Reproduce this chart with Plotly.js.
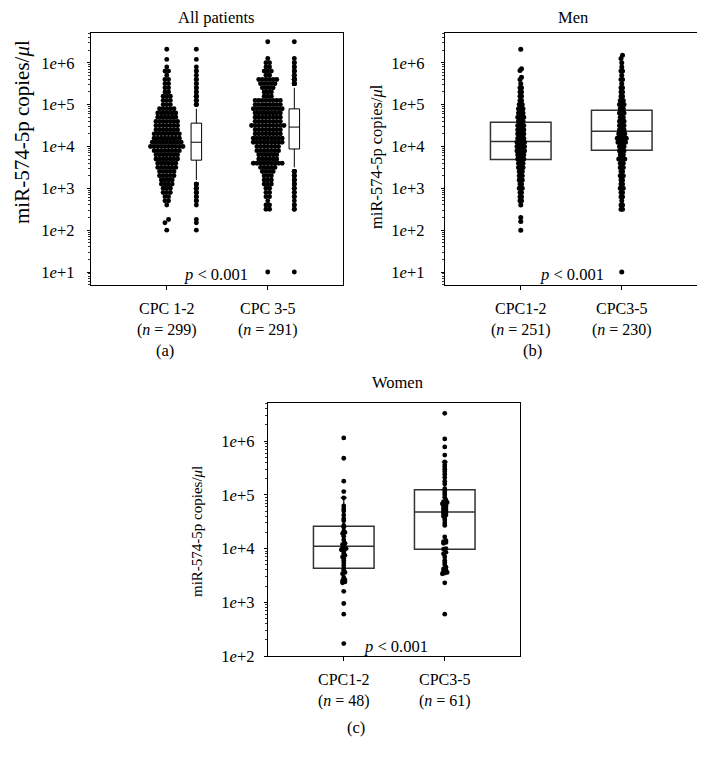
<!DOCTYPE html>
<html><head><meta charset="utf-8">
<script src="https://cdn.plot.ly/plotly-3.0.1.min.js"></script>
<style>html,body{margin:0;padding:0;background:#fff}</style>
</head><body><div id="chart" style="width:708px;height:760px"></div>
<script>
// ---------------- DATA ----------------
const categories = [0, 1];
const allTickText = ['CPC 1-2<br>(<i>n</i> = 299)', 'CPC 3-5<br>(<i>n</i> = 291)'];
const menTickText = ['CPC1-2<br>(<i>n</i> = 251)', 'CPC3-5<br>(<i>n</i> = 230)'];
const womenTickText = ['CPC1-2<br>(<i>n</i> = 48)', 'CPC3-5<br>(<i>n</i> = 61)'];
const yTickVals = [10, 100, 1000, 10000, 100000, 1000000];
const yTickText = ['1<i>e</i>+1', '1<i>e</i>+2', '1<i>e</i>+3', '1<i>e</i>+4', '1<i>e</i>+5', '1<i>e</i>+6'];
const panelTitles = ['All patients', 'Men', 'Women'];
const panelLetters = ['(a)', '(b)', '(c)'];
const yTitle = 'miR-574-5p copies/<i>μ</i>l';
const pText = '<i>p</i> < 0.001';

// (a) All patients: values (value, number of points)
const allCpc12Levels = [2100000, 1200000, 794000, 631000, 501000, 398000, 316000, 251000, 200000, 158000, 126000, 100000, 79400, 63100, 50100, 39800, 31600, 25100, 20000, 15800, 12600, 10000, 7940, 6310, 5010, 3980, 3160, 2510, 2000, 1580, 1260, 1000, 794, 631, 501, 398, 180, 150, 100];
const allCpc12Counts = [1, 1, 1, 2, 1, 2, 2, 2, 2, 3, 3, 3, 5, 6, 6, 7, 7, 7, 8, 8, 9, 10, 8, 7, 7, 6, 6, 5, 5, 4, 4, 3, 3, 2, 2, 1, 1, 1, 1];
const allCpc35Levels = [3160000, 1260000, 1000000, 794000, 631000, 501000, 398000, 316000, 251000, 200000, 158000, 126000, 100000, 79400, 63100, 50100, 39800, 31600, 25100, 20000, 15800, 12600, 10000, 7940, 6310, 5010, 3980, 3160, 2510, 2000, 1580, 1260, 1000, 794, 631, 501, 398, 316, 10];
const allCpc35Counts = [1, 1, 2, 2, 3, 2, 6, 5, 4, 3, 3, 8, 8, 9, 8, 8, 8, 10, 8, 8, 9, 9, 7, 7, 6, 6, 9, 5, 4, 3, 3, 3, 2, 2, 2, 1, 2, 2, 1];
const allBoxQ1 = [4700, 8700];
const allBoxMedian = [12600, 29000];
const allBoxQ3 = [36000, 79000];
const allBoxLower = [1580, 3160];
const allBoxUpper = [79400, 251000];

// (b) Men
const menCpc12Levels = [2100000, 720000, 650000, 450000, 400000, 316000, 251000, 200000, 158000, 126000, 100000, 79400, 63100, 50100, 39800, 31600, 25100, 20000, 15800, 12600, 10000, 7940, 6310, 5010, 3980, 3160, 2510, 2000, 1580, 1260, 1000, 794, 631, 501, 398, 200, 160, 100];
const menCpc12Counts = [1, 1, 1, 1, 1, 1, 2, 2, 2, 2, 3, 4, 4, 5, 4, 5, 5, 5, 5, 6, 6, 6, 5, 5, 4, 4, 3, 3, 3, 2, 3, 2, 2, 2, 1, 1, 1, 1];
const menCpc35Levels = [1500000, 1260000, 1000000, 794000, 631000, 501000, 398000, 316000, 251000, 200000, 158000, 126000, 100000, 79400, 63100, 50100, 39800, 31600, 25100, 20000, 15800, 12600, 10000, 7940, 6310, 5010, 3980, 3160, 2510, 2000, 1580, 1260, 1000, 794, 631, 501, 398, 316, 10];
const menCpc35Counts = [1, 1, 1, 1, 2, 1, 2, 1, 2, 2, 2, 3, 4, 3, 4, 3, 4, 4, 4, 5, 7, 6, 4, 4, 3, 5, 3, 3, 2, 3, 2, 2, 3, 2, 2, 1, 2, 2, 1];
const menBoxQ1 = [4900, 8100];
const menBoxMedian = [13200, 23000];
const menBoxQ3 = [38000, 73000];
const menBoxLower = [1260, 1580];
const menBoxUpper = [100000, 251000];

// (c) Women: individual values
const womenCpc12Values = [1150000, 480000, 180000, 115000, 88000, 62000, 55000, 50000, 42000, 36000, 33000, 27000, 25000, 21000, 20000, 19000, 17000, 14500, 12500, 12000, 11000, 10500, 10200, 10000, 9800, 9500, 8800, 8000, 7500, 7000, 6500, 6000, 5400, 4800, 4200, 3900, 3600, 3400, 2900, 2700, 2600, 2500, 2400, 2300, 1600, 950, 600, 170];
const womenCpc35Values = [3300000, 1100000, 780000, 550000, 410000, 360000, 330000, 300000, 270000, 240000, 210000, 180000, 160000, 130000, 120000, 110000, 100000, 90000, 80000, 75000, 72000, 70000, 68000, 65000, 62000, 60000, 57000, 55000, 52000, 50000, 48000, 46000, 44000, 42000, 40000, 37000, 34000, 30000, 27000, 16500, 14000, 13500, 13000, 12500, 10000, 9800, 8500, 8000, 7000, 6000, 5500, 5000, 4500, 4200, 4000, 3800, 3600, 3500, 3400, 2300, 600];
const womenBoxQ1 = [4300, 9700];
const womenBoxMedian = [11000, 48000];
const womenBoxQ3 = [26000, 125000];
const womenBoxLower = [2300, 3500];
const womenBoxUpper = [88000, 410000];

// ---------------- LAYOUT GEOMETRY ----------------
const W = 708, H = 760;
const FONT = 'Liberation Serif, Times New Roman, serif';
const xRange = [-0.75, 1.745];
const dom = {
  a: {x: [91 / W, 343 / W], y: [1 - 285 / H, 1 - 33 / H], yr: [0.69, 6.71]},
  b: {x: [445 / W, 697 / W], y: [1 - 285 / H, 1 - 33 / H], yr: [0.69, 6.71]},
  c: {x: [268 / W, 520 / W], y: [1 - 656 / H, 1 - 403 / H], yr: [2.0, 6.71]}
};
function pxPerUnitX(d) { return (d.x[1] - d.x[0]) * W / (xRange[1] - xRange[0]); }

function expand(levels, counts) {
  const out = [];
  levels.forEach((v, i) => { for (let k = 0; k < counts[i]; k++) out.push(v); });
  return out;
}
// beeswarm ("center" style): group values whose log10 lies within binLog, spread horizontally
function swarm(values, center, binLog, dxPx, d) {
  const ppu = pxPerUnitX(d);
  const s = values.slice().sort((p, q) => p - q);
  const xs = [], ys = [];
  let i = 0;
  while (i < s.length) {
    const start = Math.log10(s[i]);
    let j = i;
    while (j < s.length && Math.log10(s[j]) - start < binLog) j++;
    const n = j - i;
    for (let k = 0; k < n; k++) {
      xs.push(center + (k - (n - 1) / 2) * dxPx / ppu);
      ys.push(s[i + k]);
    }
    i = j;
  }
  return {x: xs, y: ys};
}

const traces = [];
function dots(pts, xa, ya, size) {
  traces.push({type: 'scatter', mode: 'markers', x: pts.x, y: pts.y, xaxis: xa, yaxis: ya,
    marker: {color: '#000', size: size, line: {width: 0}}, hoverinfo: 'skip'});
}
function box(pos, i, st, xa, ya, width, lineColor, lineWidth, ww) {
  traces.push({type: 'box', x: [pos], q1: [st.q1[i]], median: [st.med[i]], q3: [st.q3[i]],
    lowerfence: [st.lo[i]], upperfence: [st.up[i]], xaxis: xa, yaxis: ya, width: width,
    boxpoints: false, fillcolor: 'rgba(255,255,255,0)', whiskerwidth: ww,
    line: {color: lineColor, width: lineWidth}, hoverinfo: 'skip'});
}

// (a)
const allGroups = [expand(allCpc12Levels, allCpc12Counts), expand(allCpc35Levels, allCpc35Counts)];
const allStats = {q1: allBoxQ1, med: allBoxMedian, q3: allBoxQ3, lo: allBoxLower, up: allBoxUpper};
const allBoxPos = [0.293, 1.263];
allGroups.forEach((g, i) => {
  dots(swarm(g, categories[i], 0.09, 3.6, dom.a), 'x', 'y', 4.9);
  const out = g.filter(v => v < allStats.lo[i] || v > allStats.up[i]);
  traces.push({type: 'scatter', mode: 'markers', xaxis: 'x', yaxis: 'y', hoverinfo: 'skip',
    x: out.map(() => allBoxPos[i]), y: out, marker: {color: '#000', size: 4.9}});
  box(allBoxPos[i], i, allStats, 'x', 'y', 0.104, '#000', 1, 0);
});

// (b)
const menGroups = [expand(menCpc12Levels, menCpc12Counts), expand(menCpc35Levels, menCpc35Counts)];
const menStats = {q1: menBoxQ1, med: menBoxMedian, q3: menBoxQ3, lo: menBoxLower, up: menBoxUpper};
menGroups.forEach((g, i) => box(categories[i], i, menStats, 'x2', 'y2', 0.6, '#333', 1.5, 0.08));
menGroups.forEach((g, i) => dots(swarm(g, categories[i], 0.09, 1.5, dom.b), 'x2', 'y2', 5));

// (c)
const womenGroups = [womenCpc12Values, womenCpc35Values];
const womenStats = {q1: womenBoxQ1, med: womenBoxMedian, q3: womenBoxQ3, lo: womenBoxLower, up: womenBoxUpper};
womenGroups.forEach((g, i) => box(categories[i], i, womenStats, 'x3', 'y3', 0.6, '#333', 1.5, 0.1));
womenGroups.forEach((g, i) => dots(swarm(g, categories[i], 0.03, 2.4, dom.c), 'x3', 'y3', 4.8));

// ---------------- AXES ----------------
function minorVals(lo, hi) {
  const v = [];
  for (let e = lo; e <= hi; e++) for (let m = 2; m <= 9; m++) v.push(m * Math.pow(10, e));
  return v;
}
function xAxis(d, text, yname, mirror) {
  return {domain: d.x, range: xRange, anchor: yname, tickmode: 'array', tickvals: categories, ticktext: text,
    ticks: 'outside', ticklen: 4, tickwidth: 1, tickcolor: '#000', showline: true, linecolor: '#000', linewidth: 1.2,
    mirror: mirror, showgrid: false, zeroline: false, ticklabelstandoff: 5,
    tickfont: {family: FONT, size: 16, color: '#000'}, fixedrange: true};
}
function yAxis(d, xname, mirror, standoff) {
  const lo = Math.floor(d.yr[0]), hi = Math.ceil(d.yr[1]);
  const keep = yTickVals.map(v => Math.log10(v) >= d.yr[0] - 1e-9);
  return {domain: d.y, type: 'log', range: d.yr, anchor: xname, tickmode: 'array',
    tickvals: yTickVals.filter((v, i) => keep[i]), ticktext: yTickText.filter((t, i) => keep[i]),
    ticks: 'outside', ticklen: 3, tickwidth: 1, tickcolor: '#000', showline: true, linecolor: '#000', linewidth: 1.2,
    mirror: mirror, showgrid: false, zeroline: false, ticklabelstandoff: standoff,
    minor: {tickmode: 'array', tickvals: minorVals(lo, hi).filter(v => Math.log10(v) > d.yr[0] && Math.log10(v) < d.yr[1]), ticks: 'outside', ticklen: 2, tickwidth: 0.8, tickcolor: '#000', showgrid: false},
    tickfont: {family: FONT, size: 16.5, color: '#000'}, fixedrange: true};
}

function ann(text, x, y, size, extra) {
  return Object.assign({text: text, x: x / W, y: 1 - y / H, xref: 'paper', yref: 'paper', showarrow: false,
    xanchor: 'center', yanchor: 'middle', font: {family: FONT, size: size, color: '#000'}}, extra || {});
}

const layout = {
  width: W, height: H, margin: {l: 0, r: 0, t: 0, b: 0}, paper_bgcolor: '#fff', plot_bgcolor: '#fff',
  showlegend: false, boxmode: 'overlay', font: {family: FONT, size: 16, color: '#000'},
  xaxis: xAxis(dom.a, allTickText, 'y', true),
  yaxis: yAxis(dom.a, 'x', true, 9),
  xaxis2: xAxis(dom.b, menTickText, 'y2', true),
  yaxis2: yAxis(dom.b, 'x2', false, 13),
  xaxis3: xAxis(dom.c, womenTickText, 'y3', true),
  yaxis3: yAxis(dom.c, 'x3', true, 6),
  annotations: [
    ann(panelTitles[0], 217, 17, 16.5), ann(panelTitles[1], 573, 17, 16.5), ann(panelTitles[2], 397, 382, 16.5),
    ann(panelLetters[0], 165, 351, 16.5), ann(panelLetters[1], 532, 351, 16.5), ann(panelLetters[2], 356, 727, 16.5),
    ann(pText, 216, 274, 16.5), ann(pText, 572, 274, 16.5), ann(pText, 396, 646, 16.5),
    ann(yTitle, 22, 132, 21, {textangle: -90}), ann(yTitle, 376, 157, 16.5, {textangle: -90}), ann(yTitle, 197, 532, 15, {textangle: -90})
  ]
};

Plotly.newPlot('chart', traces, layout, {staticPlot: true, displayModeBar: false});
</script></body></html>
